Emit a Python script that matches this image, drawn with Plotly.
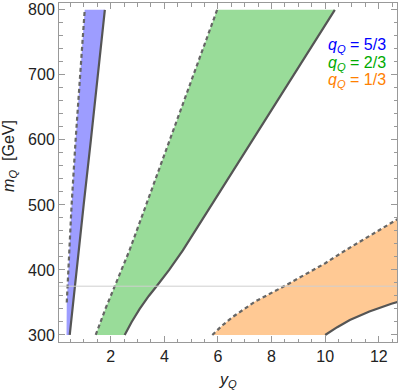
import plotly.graph_objects as go

# boundaries of the allowed regions (x = y_Q, m = m_Q in GeV)
blue_dash_m = [350, 400, 500, 600, 700, 800]
blue_dash_y = [0.36, 0.42, 0.54, 0.69, 0.86, 1.03]
blue_solid_m = [300, 400, 500, 600, 700, 800]
blue_solid_y = [0.47, 0.72, 0.99, 1.26, 1.52, 1.78]
blue_corner = (0.35, 300)

green_dash_m = [300, 340, 375, 430, 500, 600, 700, 800]
green_dash_y = [1.44, 1.80, 2.15, 2.70, 3.32, 4.20, 5.09, 5.97]
green_solid_m = [300, 320, 340, 360, 375, 400, 430, 500, 600, 700, 800]
green_solid_y = [2.52, 2.78, 3.08, 3.42, 3.71, 4.18, 4.69, 5.76, 7.30, 8.83, 10.36]

orange_dash_m = [300, 315, 328, 351, 377, 410, 431, 459, 478, 483]
orange_dash_y = [5.79, 6.17, 6.56, 7.37, 8.56, 9.99, 10.79, 11.91, 12.68, 12.9]
orange_solid_m = [300, 312, 323, 336, 348, 353]
orange_solid_y = [10.0, 10.45, 10.92, 11.65, 12.47, 12.9]

ref_mass = 375

labels = ["5/3", "2/3", "1/3"]
text_colors = ["#0000ff", "#00aa00", "#ff8000"]
fill_colors = ["#9d9dff", "#99dc99", "#ffc994"]

FONT = "Liberation Sans, Arial, sans-serif"
DASH_COL = "#666666"
SOLID_COL = "#555555"

fig = go.Figure()

regions = [
    ([blue_corner[0]] + blue_dash_y, [blue_corner[1]] + blue_dash_m, blue_solid_y, blue_solid_m,
     blue_dash_y, blue_dash_m),
    (green_dash_y, green_dash_m, green_solid_y, green_solid_m, green_dash_y, green_dash_m),
    (orange_dash_y, orange_dash_m, orange_solid_y, orange_solid_m, orange_dash_y, orange_dash_m),
]

for (lx, lm, rx, rm, dx, dm), fc in zip(regions, fill_colors):
    # filled polygon: left edge upwards, right edge back down
    fig.add_trace(go.Scatter(
        x=lx + rx[::-1], y=lm + rm[::-1],
        mode="lines", fill="toself", fillcolor=fc,
        line=dict(width=0), hoverinfo="skip", showlegend=False))

fig.add_hline(y=ref_mass, line=dict(color="#cfcfcf", width=1))

for (lx, lm, rx, rm, dx, dm) in regions:
    fig.add_trace(go.Scatter(
        x=dx, y=dm, mode="lines",
        line=dict(color=DASH_COL, width=2.2, dash="4px,3px"),
        showlegend=False))
    fig.add_trace(go.Scatter(
        x=rx, y=rm, mode="lines",
        line=dict(color=SOLID_COL, width=2.2),
        showlegend=False))

axis_style = dict(
    showline=True, linecolor="#999999", linewidth=1, mirror="ticks",
    ticks="inside", ticklen=6, tickcolor="#999999",
    tickfont=dict(family=FONT, size=16, color="#222222"),
    showgrid=False, zeroline=False,
)

fig.update_xaxes(range=[0.07, 12.68], tick0=0, dtick=2,
                 minor=dict(ticks="inside", ticklen=3.5, dtick=0.5, tickcolor="#999999"),
                 **axis_style)
fig.update_yaxes(range=[289.2, 810.5], tick0=0, dtick=100,
                 minor=dict(ticks="inside", ticklen=3.5, dtick=20, tickcolor="#999999"),
                 **axis_style)

# legend as coloured text
leg_y = [0.876, 0.823, 0.770]
for lab, col, yy in zip(labels, text_colors, leg_y):
    fig.add_annotation(text=f"<i>q</i><sub><i>Q</i></sub> = {lab}",
                       xref="paper", yref="paper", x=0.973, y=yy,
                       xanchor="right", yanchor="middle", showarrow=False,
                       font=dict(family=FONT, size=16, color=col))

# axis titles
fig.add_annotation(text="<i>y</i><sub><i>Q</i></sub>", xref="paper", yref="paper",
                   x=0.5, y=-0.113, xanchor="center", yanchor="middle", showarrow=False,
                   font=dict(family=FONT, size=16, color="#222222"))
fig.add_annotation(text="<i>m</i><sub><i>Q</i></sub>  [GeV]", xref="paper", yref="paper",
                   x=-0.145, y=0.549, xanchor="center", yanchor="middle", showarrow=False,
                   textangle=-90, font=dict(family=FONT, size=16, color="#222222"))

fig.update_layout(
    width=399, height=392,
    margin=dict(l=59, r=2, t=3, b=50),
    paper_bgcolor="white", plot_bgcolor="white",
    showlegend=False,
)

fig.write_html("out.html", config={"displayModeBar": False},
               post_script="document.body.style.margin='0px';")
